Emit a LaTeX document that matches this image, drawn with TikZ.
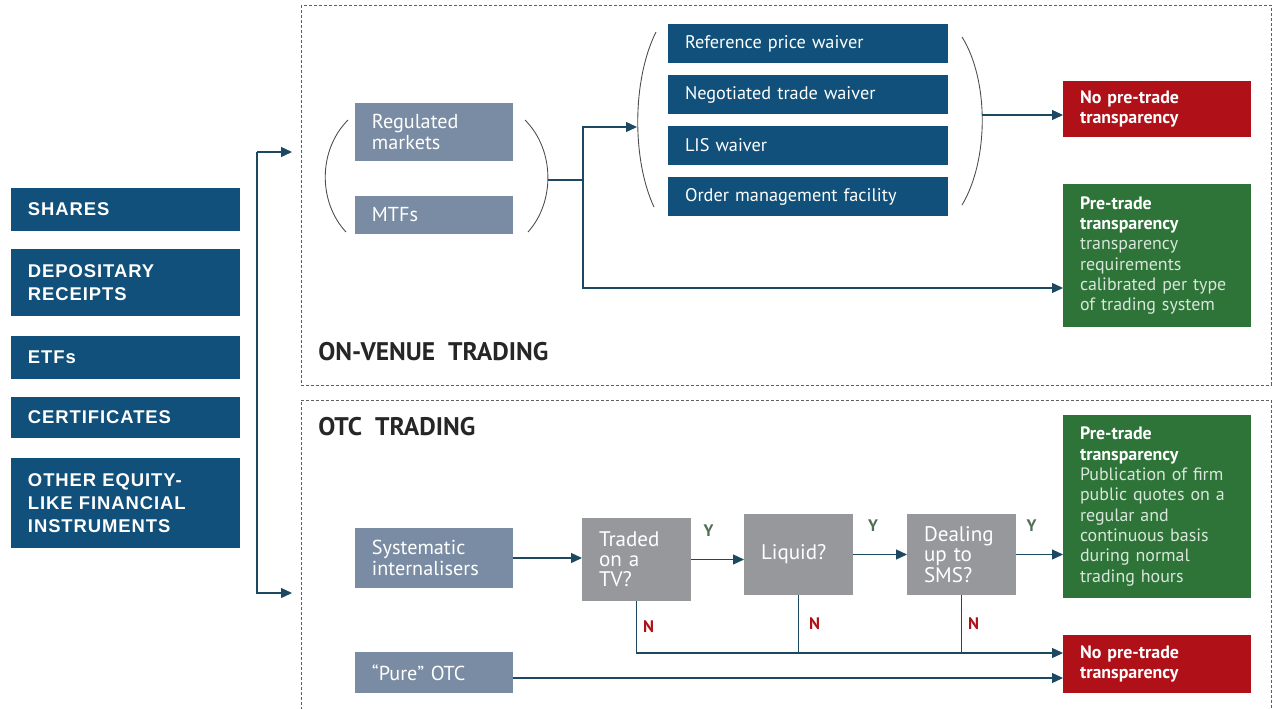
\documentclass[tikz,border=0pt]{standalone}
\usepackage{fontspec}
\setmainfont{PT Sans}
\newfontfamily\arialfont[LetterSpace=5]{Liberation Sans}
\usetikzlibrary{arrows.meta}

\definecolor{assetblue}{RGB}{16,80,122}
\definecolor{venuegray}{RGB}{122,140,164}
\definecolor{askgray}{RGB}{150,152,156}
\definecolor{nored}{RGB}{176,16,24}
\definecolor{yesgreen}{RGB}{46,116,56}
\definecolor{ylabel}{RGB}{80,110,85}
\definecolor{linkblue}{RGB}{28,72,98}
\definecolor{framegray}{RGB}{95,95,95}

\begin{document}
\begin{tikzpicture}[x=0.02cm, y=-0.02cm,
	box/.style={anchor=north west, inner xsep=0.34cm, inner ysep=0pt, outer sep=0pt, align=left, text=white},
	asset/.style={box, fill=assetblue, text width=3.9cm, minimum height=#1, font=\arialfont\bfseries\fontsize{10.5}{13}\selectfont},
	venue/.style={box, fill=venuegray, text width=2.48cm, minimum height=#1, font=\fontsize{11.5}{12}\selectfont},
	waiver/.style={box, fill=assetblue, text width=4.92cm, minimum height=0.78cm, font=\fontsize{10.4}{12}\selectfont},
	result/.style={box, text width=3.08cm, minimum height=#1, font=\fontsize{10.2}{11.6}\selectfont},
	ask/.style={box, fill=askgray, text width=1.5cm, minimum height=#1, font=\fontsize{12}{11.5}\selectfont},
	frame/.style={framegray, line width=0.4pt, dash pattern=on 0.06cm off 0.04cm},
	link/.style={linkblue, line width=0.75pt},
	arr/.style={link, -{Triangle[length=0.22cm,width=0.2cm]}},
	paren/.style={black!70, line width=0.5pt},
	title/.style={anchor=west, inner sep=0pt, font=\bfseries\fontsize{14.5}{16}\selectfont, text=black!85},
	yes/.style={inner sep=0pt, font=\bfseries\fontsize{9.5}{10}\selectfont, text=ylabel},
	no/.style={inner sep=0pt, font=\bfseries\fontsize{9.5}{10}\selectfont, text=nored}
	]
	\useasboundingbox (0,0) rectangle (1275,708);
	\draw[frame] (301,5) rectangle (1271,385);
	\draw[frame] (301,715) -- (301,400) -- (1271,400) -- (1271,715);

	\node[asset=0.86cm] (shares) at (11,188) {SHARES};
	\node[asset=1.34cm] (receipts) at (11,249) {DEPOSITARY\\RECEIPTS};
	\node[asset=0.86cm] (etfs) at (11,336) {ETFs};
	\node[asset=0.82cm] (certs) at (11,397) {CERTIFICATES};
	\node[asset=1.8cm] (other) at (11,458) {OTHER EQUITY-\\LIKE FINANCIAL\\INSTRUMENTS};

	\coordinate (fork) at (257,152);
	\coordinate (onv in) at (292,152);
	\coordinate (otc in) at (292,593);
	\draw[arr] (fork) -- (onv in);
	\draw[arr] (fork) |- (otc in);

	% on-venue trading
	\node[title] (onvt) at (318,352) {ON-VENUE\ \ TRADING};
	\node[venue=1.16cm] (regm) at (355,103) {Regulated\\markets};
	\node[venue=0.76cm] (mtf) at (355,196) {MTFs};
	\draw[paren] (348,120) .. controls (318,150) and (318,202) .. (346,232);
	\draw[paren] (525,120) .. controls (555,150) and (555,202) .. (528,232);

	\node[waiver] (ref) at (668,24) {Reference price waiver};
	\node[waiver] (neg) at (668,75) {Negotiated trade waiver};
	\node[waiver] (lis) at (668,126) {LIS waiver};
	\node[waiver] (oms) at (668,177) {Order management facility};
	\draw[paren] (656,32) .. controls (632,80) and (632,160) .. (654,207);
	\draw[paren] (962,37) .. controls (989,80) and (989,160) .. (962,205);

	\node[result=1.12cm, fill=nored] (nopre1) at (1063,81) {\bfseries No pre-trade\\transparency};
	\node[result=2.86cm, fill=yesgreen] (pre1) at (1063,184) {{\bfseries Pre-trade\\transparency}\\{\color{white!82!yesgreen}transparency\\requirements\\calibrated per type\\of trading system}};

	\coordinate (vr) at (548,180);
	\coordinate (split) at (583,180);
	\coordinate (wl) at (637,127);
	\coordinate (wr) at (982,115);
	\draw[link] (vr) -- (split);
	\draw[arr] (split) |- (wl);
	\draw[arr] (split) |- ([yshift=-0.65cm]pre1.west);
	\draw[arr] (wr) -- (wr -| nopre1.west);

	% otc trading
	\node[title] (otct) at (318,427) {OTC\ \ TRADING};
	\node[venue=1.2cm] (si) at (355,528) {Systematic\\internalisers};
	\node[venue=0.82cm] (pure) at (355,652) {``Pure'' OTC};
	\node[ask=1.66cm] (traded) at (582,518) {Traded\\on a\\TV?};
	\node[ask=1.62cm] (liquid) at (744,514) {Liquid?};
	\node[ask=1.62cm] (dealing) at (907,514) {Dealing\\up to\\SMS?};
	\node[result=3.66cm, fill=yesgreen] (pre2) at (1063,415) {{\bfseries Pre-trade\\transparency}\\{\color{white!82!yesgreen}Publication of firm\\public quotes on a\\regular and\\continuous basis\\during normal\\trading hours}};
	\node[result=1.16cm, fill=nored] (nopre2) at (1063,635) {\bfseries No pre-trade\\transparency};

	\coordinate (in1) at ([yshift=0.22cm]nopre2.west);
	\coordinate (in2) at ([yshift=-0.28cm]nopre2.west);
	\draw[arr] (si.east) -- (si.east -| traded.west);
	\draw[arr] (traded.east) -- node[yes, pos=0.33, above=0.44cm] {Y} (traded.east -| liquid.west);
	\draw[arr] (liquid.east) -- node[yes, pos=0.37, above=0.44cm] {Y} (liquid.east -| dealing.west);
	\draw[arr] (dealing.east) -- node[yes, pos=0.33, above=0.44cm] {Y} (dealing.east -| pre2.west);
	\draw[arr] (traded.south) |- node[no, pos=0.25, right=0.12cm] {N} (in1);
	\draw[link] (liquid.south) -- node[no, right=0.2cm] {N} (liquid.south |- in1);
	\draw[link] (dealing.south) -- node[no, right=0.12cm] {N} (dealing.south |- in1);
	\draw[arr] (pure.east |- in2) -- (in2);
\end{tikzpicture}
\end{document}
